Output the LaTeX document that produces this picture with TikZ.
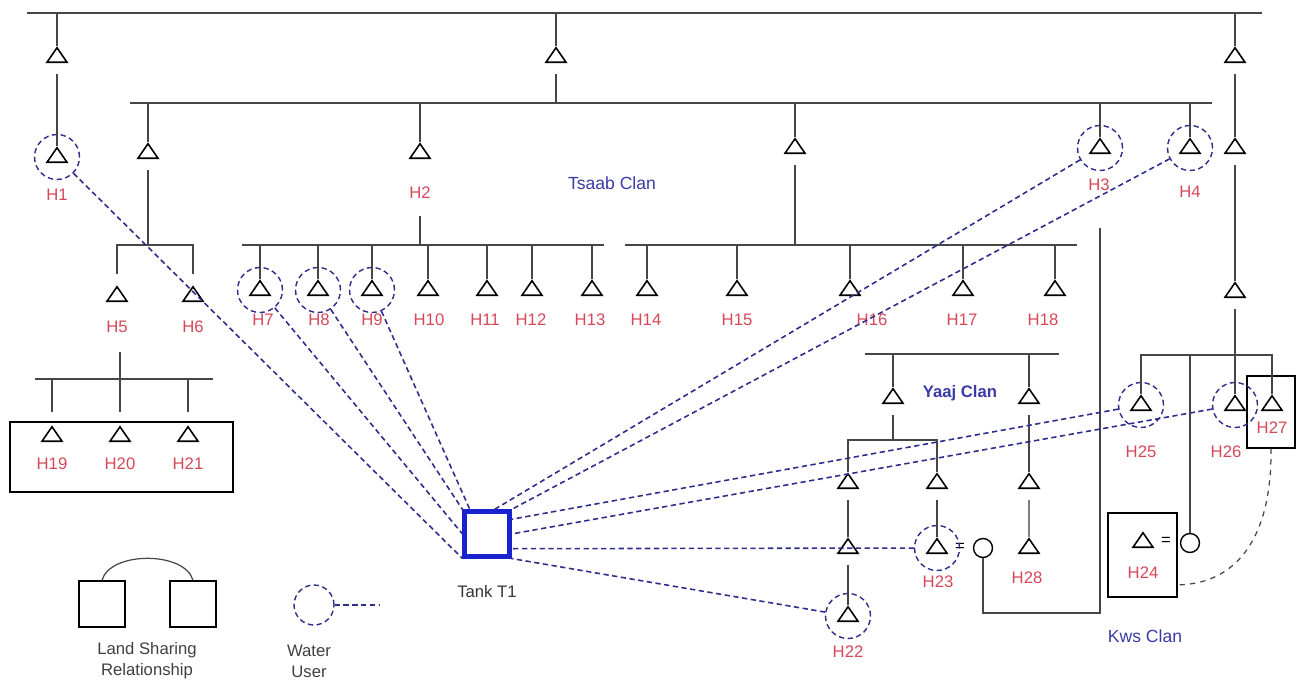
\documentclass[tikz,border=0pt]{standalone}
\usepackage{fontspec}
\setmainfont{Liberation Sans}
\usetikzlibrary{shapes.geometric,calc}
\definecolor{kinline}{RGB}{70,70,70}
\definecolor{hhred}{RGB}{214,72,88}
\definecolor{clanblue}{RGB}{58,58,168}
\definecolor{pipeblue}{RGB}{45,45,140}
\definecolor{tankblue}{RGB}{25,35,205}
\tikzset{
    tri/.style={isosceles triangle, shape border rotate=90,
                isosceles triangle stretches, draw=black, fill=white,
                line width=0.9pt, inner sep=0pt,
                minimum width=0.4cm, minimum height=0.29cm},
    wuser/.style={circle, draw=pipeblue, densely dashed, line width=0.8pt,
                  minimum size=0.9cm, inner sep=0pt},
    hlab/.style={text=hhred, font=\fontsize{9.5}{11}\selectfont, inner sep=1pt},
    clan/.style={text=clanblue, font=\fontsize{10}{12}\selectfont},
    kin/.style={draw=kinline, line width=0.7pt},
    kinsub/.style={kin, shorten <=6pt},
    pipe/.style={draw=pipeblue, densely dashed, line width=0.9pt},
    plot/.style={draw=black, line width=0.8pt, inner sep=0pt},
    spouse/.style={circle, draw=black, line width=0.8pt,
                   minimum size=0.38cm, inner sep=0pt},
    legtext/.style={text=black!75, align=center,
                    font=\fontsize{9.5}{12}\selectfont},
}

\begin{document}
\begin{tikzpicture}[x=0.02cm, y=-0.02cm]
\useasboundingbox (0,0) rectangle (1301,682);

% bar ends
\coordinate (topL) at (27,13);
\coordinate (topR) at (1262,13);
\coordinate (midL) at (130,103);
\coordinate (midR) at (1212,103);
\coordinate (rowL) at (242,245);
\coordinate (rowLe) at (604,245);
\coordinate (rowR) at (625,245);
\coordinate (rowRe) at (1077,245);
\coordinate (famL) at (35,379);
\coordinate (famR) at (213,379);
\coordinate (h20top) at (120,352);
\coordinate (kwsL) at (1141,355);
\coordinate (kwsR) at (1272,355);
\coordinate (yaajL) at (865,354);
\coordinate (yaajR) at (1059,354);
\coordinate (yaaj2) at (848,440);
\coordinate (kwsTop) at (1100,228);
\coordinate (kwsBot) at (1100,613);
\coordinate (wuEnd) at (380,605);

% ancestors
\node[tri] (ta) at (57,57) {};
\node[tri] (tb) at (556,57) {};
\node[tri] (tc1) at (1235,57) {};
\node[tri] (tc2) at (1235,148) {};
\node[tri] (tc3) at (1235,292) {};
\node[tri] (td) at (148,153) {};
\node[tri] (te) at (795,148) {};
\node[tri] (ty1) at (893,398) {};
\node[tri] (ty2) at (1029,398) {};
\node[tri] (ty3) at (848,483) {};
\node[tri] (ty4) at (937,483) {};
\node[tri] (ty5) at (1029,483) {};
\node[tri] (ty6) at (848,548) {};

% households
\node[tri] (h1) at (57,157) {};
\node[tri] (h2) at (420,153) {};
\node[tri] (h3) at (1100,148) {};
\node[tri] (h4) at (1190,148) {};
\node[tri] (h5) at (117,296) {};
\node[tri] (h6) at (193,296) {};
\foreach \n/\x in {7/260,8/318,9/372,10/428,11/487,12/532,13/592,
                   14/647,15/737,16/850,17/963,18/1055}
    \node[tri] (h\n) at (\x,290) {};
\node[tri] (h19) at (52,436) {};
\node[tri] (h20) at (120,436) {};
\node[tri] (h21) at (188,436) {};
\node[tri] (h22) at (848,616) {};
\node[tri] (h23) at (937,548) {};
\node[tri] (h24) at (1143,542) {};
\node[tri] (h25) at (1141,405) {};
\node[tri] (h26) at (1235,405) {};
\node[tri] (h27) at (1272,405) {};
\node[tri] (h28) at (1029,548) {};

\node[spouse] (sp23) at (983,548) {};
\node[spouse] (sp24) at (1190,543) {};
\node[font=\fontsize{9.5}{11}\selectfont] (eq23) at (960,547) {=};
\node[font=\fontsize{9.5}{11}\selectfont] (eq24) at (1166,541) {=};

\node[plot, minimum width=4.46cm, minimum height=1.4cm] (fam) at (121.5,457) {};
\node[plot, minimum width=0.96cm, minimum height=1.44cm] (b27) at (1271,412) {};
\node[plot, minimum width=1.38cm, minimum height=1.68cm] (b24) at (1142.5,555) {};
\node[draw=tankblue, line width=2.3pt, minimum size=0.9cm, inner sep=0pt] (tank) at (487,534) {};

\foreach \n in {1,3,4,7,8,9,22,23,25,26}
    \node[wuser] (w\n) at (h\n) {};

\foreach \n/\x/\y in {1/57/195,2/420/193,3/1099/185,4/1190/192,5/117/327,
                      6/193/327,7/263/320,8/319/320,9/372/320,10/429/320,
                      11/485/320,12/531/320,13/590/320,14/646/320,15/737/320,
                      16/872/320,17/962/320,18/1043/320,19/52/464,20/120/464,
                      21/188/464,22/848/652,23/938/582,24/1143/573,25/1141/452,
                      26/1226/452,27/1272/428,28/1027/578}
    \node[hlab] (l\n) at (\x,\y) {H\n};

\node[clan] (tsaab) at (612,183) {Tsaab Clan};
\node[clan, font=\fontsize{9.5}{12}\selectfont\bfseries] (yaaj) at (960,393) {Yaaj Clan};
\node[clan] (kws) at (1145,636) {Kws Clan};
\node[legtext, text=black!80] (tankname) at (487,592) {Tank T1};

% kinship lines
\draw[kin] (topL) -- (topR);
\draw[kin] (ta |- topL) -- (ta);
\draw[kin] (tb |- topL) -- (tb);
\draw[kin] (tc1 |- topL) -- (tc1);
\draw[kinsub] (ta) -- (h1);
\draw[kinsub] (tb) -- (tb |- midL);
\draw[kinsub] (tc1) -- (tc2);
\draw[kinsub] (tc2) -- (tc3);
\draw[kinsub] (tc3) -- (tc3 |- kwsL) -- (h26);
\draw[kin] (midL) -- (midR);
\draw[kin] (td |- midL) -- (td);
\draw[kin] (h2 |- midL) -- (h2);
\draw[kin] (te |- midL) -- (te);
\draw[kin, line width=1.1pt] (h3) -- (h3 |- midL) -- (h4 |- midL) -- (h4);
\draw[kinsub] (td) -- (td |- rowL);
\draw[kin, shorten <=6pt, shorten >=6pt] (h5) -- (h5 |- rowL) -- (h6 |- rowL) -- (h6);
\draw[kin, shorten <=0.3cm] (l2) -- (l2 |- rowL);
\draw[kinsub] (te) -- (te |- rowL);
\draw[kin] (rowL) -- (rowLe);
\draw[kin] (rowR) -- (rowRe);
\foreach \n in {7,...,18}
    \draw[kin] (h\n |- rowL) -- (h\n);
\draw[kin] (famL) -- (famR);
\draw[kin] (h20top) -- ($(h20 |- fam.north)+(0,-9)$);
\draw[kin] (h19 |- famL) -- ($(h19 |- fam.north)+(0,-9)$);
\draw[kin] (h21 |- famL) -- ($(h21 |- fam.north)+(0,-9)$);

\draw[kin] (h25) -- (h25 |- kwsL) -- (kwsR) -- (h27);
\draw[kin] (sp24 |- kwsL) -- (sp24);
\draw[kin] (kwsTop) -- (kwsBot) -| (sp23);
\draw[kin, dashed] (b27.south) .. controls (1272,540) and (1235,584) .. ($(b24.south east)!0.15!(b24.north east)$);

\draw[kin] (yaajL) -- (yaajR);
\draw[kin] (ty1 |- yaajL) -- (ty1);
\draw[kin] (ty2 |- yaajL) -- (ty2);
\draw[kinsub] (ty1) -- (ty1 |- yaaj2);
\draw[kin] (ty3) -- (yaaj2) -- (ty4 |- yaaj2) -- (ty4);
\draw[kinsub] (ty3) -- (ty6);
\draw[kinsub] (ty6) -- (h22);
\draw[kinsub] (ty4) -- (h23);
\draw[kinsub] (ty2) -- (ty5);
\draw[kinsub, draw=gray] (ty5) -- (h28);

% water supply
\draw[pipe] (w1) -- (tank.south west);
\draw[pipe] (w7) -- (tank.west);
\draw[pipe] (w8) -- (tank.north west);
\draw[pipe] (w9) -- ($(tank.north west)!0.15!(tank.north east)$);
\draw[pipe] (w3) -- ($(tank.north west)!0.65!(tank.north east)$);
\draw[pipe] (w4) -- (tank.north east);
\draw[pipe] (w25) -- ($(tank.south east)!0.8!(tank.north east)$);
\draw[pipe] (w26) -- (tank.east);
\draw[pipe] (w23) -- ($(tank.south east)!0.2!(tank.north east)$);
\draw[pipe] (w22) -- (tank.south east);

% legend
\node[plot, minimum size=0.92cm] (lsA) at (102,604) {};
\node[plot, minimum size=0.92cm] (lsB) at (193,604) {};
\draw[kin] (lsA.north) .. controls (110,551) and (185,551) .. (lsB.north);
\node[legtext] (lstext) at (147,661) {Land Sharing\\Relationship};
\node[wuser, minimum size=0.8cm] (wu) at (314,605) {};
\draw[pipe] (wu) -- (wuEnd);
\node[legtext] (wutext) at (309,661) {Water\\User};
\end{tikzpicture}
\end{document}
